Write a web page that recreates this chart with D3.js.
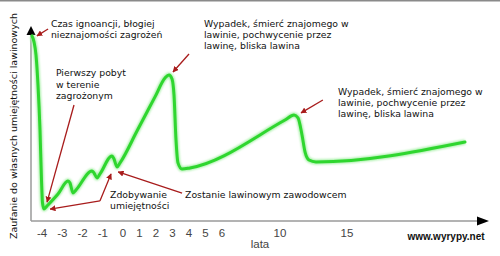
<!DOCTYPE html>
<html>
<head>
<meta charset="utf-8">
<script src="https://cdn.jsdelivr.net/npm/d3@7"></script>
<style>
  body { margin: 0; background: #fff; }
  .note { font-family: "DejaVu Sans", sans-serif; font-size: 9.3px; fill: #111; }
  .tick-lbl { font-family: "Liberation Sans", Arial, sans-serif; font-size: 11.5px; fill: #444; }
</style>
</head>
<body>
<div id="chart"></div>
<script>
// years (x) and confidence (y, 0..100) of the curve
var years = [-4.494, -4.395, -4.296, -4.198, -4.099, -4.025, -3.975, -3.901, -3.753, -3.210,
             -2.716, -2.617, -2.469, -2.321, -1.531, -1.432, -1.284, -1.136, -0.543, -0.444,
             -0.296, -0.148, 0.848, 1.939, 2.545, 2.788, 2.970, 3.091, 3.212, 3.333,
             3.576, 4.061, 10.373, 11.045, 11.343, 11.642, 11.866, 12.164, 12.687, 23.806];
var confidence = [95.9, 92.8, 86.0, 70.5, 47.2, 21.2, 9.3, 6.2, 7.8, 14.0,
                  20.7, 19.7, 14.5, 16.1, 25.9, 24.9, 22.3, 24.4, 33.7, 32.1,
                  28.0, 30.1, 46.6, 64.3, 74.1, 75.7, 73.6, 65.3, 42.0, 30.1,
                  26.9, 27.5, 52.3, 54.9, 53.4, 44.6, 35.8, 31.6, 30.6, 40.9];

var tickYears = [-4, -3, -2, -1, 0, 1, 2, 3, 4, 5, 6, 10, 15];

// annotation texts (lines) with anchor in data units
var noteLines = [
  ["Czas ignoancji, błogiej", "nieznajomości zagrożeń"],
  ["Wypadek, śmierć znajomego w", "lawinie, pochwycenie przez", "lawinę, bliska lawina"],
  ["Wypadek, śmierć znajomego w", "lawinie, pochwycenie przez", "lawinę, bliska lawina"],
  ["Pierwszy pobyt", "w terenie", "zagrożonym"],
  ["Zdobywanie", "umiejętności"],
  ["Zostanie lawinowym zawodowcem"]
];
var noteYear = [-3.56, 4.91, 14.33, -3.31, -0.64, 3.76];
var noteConf = [100.5, 100.5, 65.3, 75.1, 11.9, 11.9];

// arrows: from (year, conf) to (year, conf)
var arrowFrom = [[-3.7, 99.5], [-2.42, 60.1], [-1.14, 10.4], [-1.14, 10.4], [3.58, 14.5], [4.0, 86.5], [13.2, 62.7]];
var arrowTo   = [[-4.25, 95.9], [-3.75, 9.8], [-3.6, 6.2], [-0.59, 24.4], [-0.24, 25.4], [3.03, 77.2], [11.57, 56.0]];

var width = 500, height = 256;

var svg = d3.select("#chart").append("svg")
    .attr("width", width)
    .attr("height", height);

// uneven time axis, as in the original drawing
var x = d3.scaleLinear()
    .domain([-4, 0, 6, 10, 15])
    .range([42, 123, 222, 280, 347]);

var y = d3.scaleLinear()
    .domain([0, 100])
    .range([221, 28]);

var defs = svg.append("defs");
defs.append("filter").attr("id", "glow")
    .attr("x", "-10%").attr("y", "-10%").attr("width", "120%").attr("height", "120%")
  .append("feGaussianBlur").attr("stdDeviation", 1.3);

defs.append("marker")
    .attr("id", "redhead")
    .attr("viewBox", "0 0 10 10")
    .attr("refX", 9).attr("refY", 5)
    .attr("markerWidth", 6).attr("markerHeight", 6)
    .attr("markerUnits", "userSpaceOnUse")
    .attr("orient", "auto")
  .append("path")
    .attr("d", "M0,0 L10,5 L0,10 Z")
    .attr("fill", "#a81c1c");

// top border
svg.append("line")
    .attr("x1", 0).attr("x2", width)
    .attr("y1", 0.75).attr("y2", 0.75)
    .attr("stroke", "#8a8a8a").attr("stroke-width", 1.5);

// axes
svg.append("line")
    .attr("x1", 31).attr("x2", 31)
    .attr("y1", y(0)).attr("y2", 34)
    .attr("stroke", "#9a9a9a").attr("stroke-width", 1.5);
svg.append("line")
    .attr("x1", 31).attr("x2", 480)
    .attr("y1", y(0)).attr("y2", y(0))
    .attr("stroke", "#9a9a9a").attr("stroke-width", 1.5);
svg.append("path")
    .attr("d", "M31,26 L35.5,35 L26.5,35 Z")
    .attr("fill", "#000");
svg.append("path")
    .attr("d", "M489," + y(0) + " L477," + (y(0) - 4.5) + " L477," + (y(0) + 4.5) + " Z")
    .attr("fill", "#000");

// tick labels
svg.selectAll(".tick-lbl")
    .data(tickYears)
    .enter().append("text")
    .attr("class", "tick-lbl")
    .attr("x", function (d) { return x(d); })
    .attr("y", 237)
    .attr("text-anchor", "middle")
    .text(function (d) { return d; });

svg.append("text")
    .attr("x", 260).attr("y", 248)
    .attr("text-anchor", "middle")
    .attr("font-family", "Liberation Sans, Arial, sans-serif")
    .attr("font-size", 11.5)
    .attr("fill", "#444")
    .text("lata");

svg.append("text")
    .attr("x", 446).attr("y", 240)
    .attr("text-anchor", "middle")
    .attr("font-family", "Liberation Sans, Arial, sans-serif")
    .attr("font-size", 10)
    .attr("font-weight", "bold")
    .attr("fill", "#111")
    .text("www.wyrypy.net");

svg.append("text")
    .attr("transform", "translate(17,126) rotate(-90)")
    .attr("text-anchor", "middle")
    .attr("font-family", "DejaVu Sans, sans-serif")
    .attr("font-size", 9.5)
    .attr("fill", "#111")
    .text("Zaufanie do własnych umiejętności lawinowych");

// the curve
var pts = years.map(function (d, i) { return [d, confidence[i]]; });
var line = d3.line()
    .x(function (d) { return x(d[0]); })
    .y(function (d) { return y(d[1]); })
    .curve(d3.curveMonotoneX);

svg.append("path")
    .datum(pts)
    .attr("d", line)
    .attr("fill", "none")
    .attr("stroke", "#a6f0a6")
    .attr("stroke-width", 5)
    .attr("filter", "url(#glow)");
svg.append("path")
    .datum(pts)
    .attr("d", line)
    .attr("fill", "none")
    .attr("stroke", "#2fd62f")
    .attr("stroke-width", 3)
    .attr("stroke-linejoin", "round")
    .attr("stroke-linecap", "round");

// arrows
svg.selectAll(".arrow")
    .data(arrowFrom)
    .enter().append("line")
    .attr("class", "arrow")
    .attr("x1", function (d) { return x(d[0]); })
    .attr("y1", function (d) { return y(d[1]); })
    .attr("x2", function (d, i) { return x(arrowTo[i][0]); })
    .attr("y2", function (d, i) { return y(arrowTo[i][1]); })
    .attr("stroke", "#a81c1c")
    .attr("stroke-width", 1.3)
    .attr("marker-end", "url(#redhead)");

// annotation texts
noteLines.forEach(function (lines, i) {
  var t = svg.append("text")
      .attr("class", "note")
      .attr("x", x(noteYear[i]))
      .attr("y", y(noteConf[i]));
  lines.forEach(function (s, j) {
    t.append("tspan")
      .attr("x", x(noteYear[i]))
      .attr("dy", j === 0 ? 0 : (i === 3 ? 11.5 : 11))
      .text(s);
  });
});
</script>
</body>
</html>
